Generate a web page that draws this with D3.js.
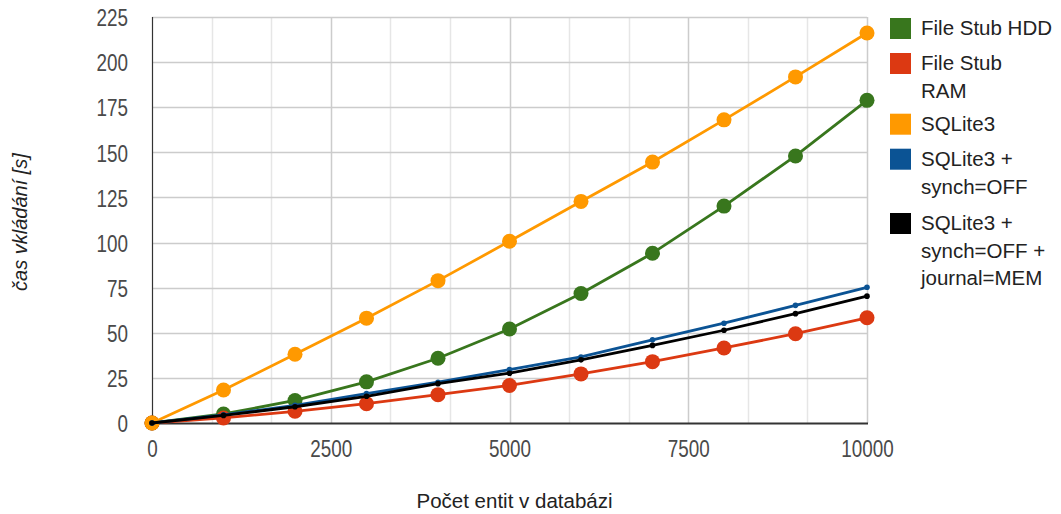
<!DOCTYPE html>
<html>
<head>
<meta charset="utf-8">
<script src="https://cdn.jsdelivr.net/npm/d3@7"></script>
<style>
  html, body { margin: 0; padding: 0; background: #fff; }
  svg { display: block; }
</style>
</head>
<body>
<svg id="chart" width="1061" height="514"></svg>
<script>
// ---- data ----
const xValues = [0, 1000, 2000, 3000, 4000, 5000, 6000, 7000, 8000, 9000, 10000];
const fileStubHDD = [0, 5.0, 12.5, 22.8, 35.9, 52.1, 71.8, 94.1, 120.2, 148.0, 178.8];
const fileStubRAM = [0, 2.8, 6.5, 10.7, 15.7, 20.8, 27.2, 34.0, 41.6, 49.5, 58.3];
const sqlite3 = [0, 18.3, 38.1, 58.1, 78.9, 100.7, 122.8, 144.6, 168.0, 191.8, 216.1];
const sqliteSynchOff = [0, 4.5, 9.8, 16.3, 22.6, 29.6, 36.6, 46.1, 55.3, 65.2, 75.2];
const sqliteSynchOffJournalMem = [0, 4.2, 9.0, 14.8, 21.8, 27.6, 35.0, 43.0, 51.4, 60.6, 70.3];
const seriesNames = [
  ["File Stub HDD"],
  ["File Stub", "RAM"],
  ["SQLite3"],
  ["SQLite3 +", "synch=OFF"],
  ["SQLite3 +", "synch=OFF +", "journal=MEM"]
];
const xTicks = [0, 2500, 5000, 7500, 10000];
const yTicks = [0, 25, 50, 75, 100, 125, 150, 175, 200, 225];
const xTitle = "Počet entit v databázi";
const yTitle = "čas vkládání [s]";

// ---- styles ----
const colors = ["#38761d", "#dc3912", "#ff9900", "#0b5394", "#000000"];
const markerR = [7.5, 7.5, 7.5, 2.8, 2.8];
const seriesValues = [fileStubHDD, fileStubRAM, sqlite3, sqliteSynchOff, sqliteSynchOffJournalMem];

(function () {
const svg = d3.select("#chart");
const pL = 152, pR = 867, pT = 17, pB = 423;
const x = d3.scaleLinear().domain([0, 10000]).range([pL, pR]);
const y = d3.scaleLinear().domain([0, 225]).range([pB, pT]);

// minor vertical gridlines (thirds between majors)
const minorX = [];
for (let i = 0; i < xTicks.length - 1; i++) {
  const step = (xTicks[i + 1] - xTicks[i]) / 3;
  minorX.push(xTicks[i] + step, xTicks[i] + 2 * step);
}
svg.append("g").selectAll("line").data(minorX).join("line")
  .attr("x1", d => Math.round(x(d)) + 0.5).attr("x2", d => Math.round(x(d)) + 0.5)
  .attr("y1", pT).attr("y2", pB)
  .attr("stroke", "#e6e6e6").attr("stroke-width", 1.5);

// major vertical gridlines
svg.append("g").selectAll("line").data(xTicks.slice(1)).join("line")
  .attr("x1", d => Math.round(x(d)) + 0.5).attr("x2", d => Math.round(x(d)) + 0.5)
  .attr("y1", pT).attr("y2", pB)
  .attr("stroke", "#cccccc").attr("stroke-width", 1.5);

// horizontal gridlines
svg.append("g").selectAll("line").data(yTicks.slice(1)).join("line")
  .attr("x1", pL).attr("x2", pR)
  .attr("y1", d => Math.round(y(d)) + 0.5).attr("y2", d => Math.round(y(d)) + 0.5)
  .attr("stroke", "#cccccc").attr("stroke-width", 1.5);

// axes lines
svg.append("line").attr("x1", pL + 0.5).attr("x2", pL + 0.5).attr("y1", pT).attr("y2", pB)
  .attr("stroke", "#333").attr("stroke-width", 1.2);
svg.append("line").attr("x1", pL).attr("x2", pR + 1).attr("y1", pB + 0.5).attr("y2", pB + 0.5)
  .attr("stroke", "#333").attr("stroke-width", 2);

// tick labels via axes (domain and ticks hidden); condensed look via horizontal scale
const tickFont = "'Liberation Sans', Arial, sans-serif";
const yAxis = d3.axisLeft(y).tickValues(yTicks).tickSize(0).tickPadding(0).tickFormat(d3.format("d"));
const gy = svg.append("g").attr("transform", `translate(128,0)`).call(yAxis);
gy.select(".domain").remove();
gy.selectAll("text").attr("font-family", tickFont).attr("font-size", 23).attr("fill", "#4a4a4a")
  .attr("dy", "0.38em").attr("transform", "scale(0.82,1)");

const xAxis = d3.axisBottom(x).tickValues(xTicks).tickSize(0).tickPadding(0).tickFormat(d3.format("d"));
const gx = svg.append("g").attr("transform", `translate(0,${pB})`).call(xAxis);
gx.select(".domain").remove();
gx.selectAll("text").attr("font-family", tickFont).attr("font-size", 23).attr("fill", "#4a4a4a")
  .attr("dy", null).attr("y", 34).attr("transform", "scale(0.82,1)");

// axis titles
svg.append("text").attr("x", (pL + pR) / 2 + 5).attr("y", 508)
  .attr("text-anchor", "middle").attr("font-family", "'Liberation Sans', Arial, sans-serif")
  .attr("font-size", 20.5).attr("fill", "#222").text(xTitle);
svg.append("text").attr("transform", `translate(27,222) rotate(-90)`)
  .attr("text-anchor", "middle").attr("font-family", "'Liberation Sans', Arial, sans-serif")
  .attr("font-style", "italic").attr("font-size", 20).attr("fill", "#222").text(yTitle);

// series lines and markers
const line = d3.line().x((d, i) => x(xValues[i])).y(d => y(d));
seriesValues.forEach((vals, si) => {
  const g = svg.append("g");
  g.append("path").datum(vals).attr("d", line)
    .attr("fill", "none").attr("stroke", colors[si]).attr("stroke-width", 2.8)
    .attr("stroke-linejoin", "round");
  g.selectAll("circle").data(vals).join("circle")
    .attr("cx", (d, i) => x(xValues[i])).attr("cy", d => y(d))
    .attr("r", markerR[si]).attr("fill", colors[si]);
});

// legend
const legendBaselines = [[35], [70, 97.5], [130.7], [165.7, 194], [230, 258, 285]];
const lg = svg.append("g");
seriesNames.forEach((lines, si) => {
  const b0 = legendBaselines[si][0];
  lg.append("rect").attr("x", 890).attr("y", b0 - 17).attr("width", 21).attr("height", 21)
    .attr("fill", colors[si]);
  lines.forEach((t, li) => {
    lg.append("text").attr("x", 921).attr("y", legendBaselines[si][li])
      .attr("font-family", "'Liberation Sans', Arial, sans-serif").attr("font-size", 20.5)
      .attr("fill", "#222").text(t);
  });
});
})();
</script>
</body>
</html>
